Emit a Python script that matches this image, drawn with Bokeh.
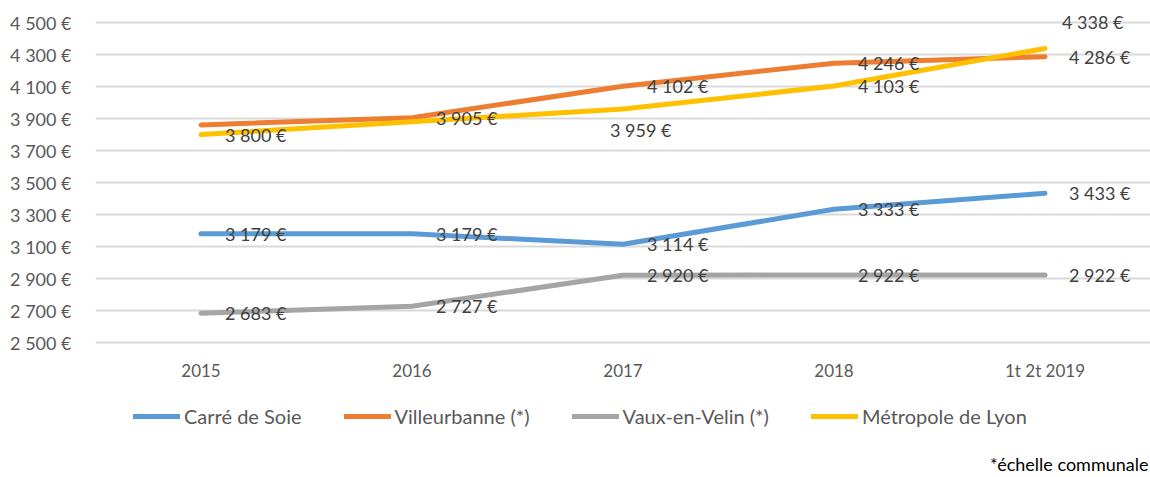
from bokeh.plotting import figure
from bokeh.models import (ColumnDataSource, FactorRange, Range1d, FixedTicker,
                          LabelSet, Label, Legend, LegendItem)
from bokeh.core.properties import value
from bokeh.embed import file_html
from bokeh.resources import INLINE

# ---- data ----
categories = ["2015", "2016", "2017", "2018", "1t 2t 2019"]
series_names = ["Carré de Soie", "Villeurbanne (*)", "Vaux-en-Velin (*)", "Métropole de Lyon"]
carre_de_soie = [3179, 3179, 3114, 3333, 3433]
villeurbanne = [3860, 3905, 4102, 4246, 4286]
vaulx_en_velin = [2683, 2727, 2920, 2922, 2922]
metropole_lyon = [3800, 3880, 3959, 4103, 4338]
y_ticks = [2500, 2700, 2900, 3100, 3300, 3500, 3700, 3900, 4100, 4300, 4500]
y_tick_labels = ["2 500 €", "2 700 €", "2 900 €", "3 100 €", "3 300 €", "3 500 €",
                 "3 700 €", "3 900 €", "4 100 €", "4 300 €", "4 500 €"]
# which points carry a data label (series index, category index, text)
data_labels = [
    (0, 0, "3 179 €"), (0, 1, "3 179 €"), (0, 2, "3 114 €"), (0, 3, "3 333 €"), (0, 4, "3 433 €"),
    (1, 1, "3 905 €"), (1, 2, "4 102 €"), (1, 3, "4 246 €"), (1, 4, "4 286 €"),
    (2, 0, "2 683 €"), (2, 1, "2 727 €"), (2, 2, "2 920 €"), (2, 3, "2 922 €"), (2, 4, "2 922 €"),
    (3, 0, "3 800 €"), (3, 2, "3 959 €"), (3, 3, "4 103 €"), (3, 4, "4 338 €"),
]
footnote = "*échelle communale"

# ---- styles ----
colors = ["#5B9BD5", "#ED7D31", "#A5A5A5", "#FFC000"]
FONT = "Lato"
AXIS_COLOR = "#595959"
LABEL_COLOR = "#404040"
special_offsets = {(3, 2): (-13, -21), (3, 4): (17, 26)}

all_series = [carre_de_soie, villeurbanne, vaulx_en_velin, metropole_lyon]

# frame spans the whole height; the value axis keeps 0.16 px per euro
p = figure(x_range=FactorRange(*categories, range_padding=0),
           y_range=Range1d(1656.25, 4600),
           frame_width=1055, frame_height=471,
           min_border_left=95, min_border_right=0,
           min_border_top=6, min_border_bottom=0,
           output_backend="svg", toolbar_location=None,
           background_fill_color="white", border_fill_color="white")
p.outline_line_color = None

# grid
p.xgrid.grid_line_color = None
p.ygrid.grid_line_color = "#D9D9D9"
p.ygrid.grid_line_width = 2

# y axis
p.yaxis.ticker = FixedTicker(ticks=y_ticks)
p.yaxis.major_label_overrides = {t: l for t, l in zip(y_ticks, y_tick_labels)}
p.yaxis.axis_line_color = None
p.yaxis.major_tick_line_color = None
p.yaxis.minor_tick_line_color = None
p.yaxis.major_label_standoff = 18
p.yaxis.major_label_text_font = FONT
p.yaxis.major_label_text_font_size = "18px"
p.yaxis.major_label_text_color = AXIS_COLOR

# category axis labels, placed under the lowest gridline
p.xaxis.visible = False
csrc = ColumnDataSource(dict(x=categories, y=[y_ticks[0]] * len(categories), text=categories))
p.add_layout(LabelSet(x="x", y="y", text="text", source=csrc, y_offset=-28,
                      text_align="center", text_baseline="middle",
                      text_font=value(FONT), text_font_size="17px",
                      text_color=AXIS_COLOR))

renderers = []
for name, vals, col in zip(series_names, all_series, colors):
    src = ColumnDataSource(dict(x=categories, y=vals))
    r = p.line("x", "y", source=src, line_color=col, line_width=5,
               line_cap="round", line_join="round")
    renderers.append(r)

# data labels
lx, ly, lt, lxo, lyo = [], [], [], [], []
for si, ci, txt in data_labels:
    lx.append(categories[ci])
    ly.append(all_series[si][ci])
    lt.append(txt)
    xo, yo = special_offsets.get((si, ci), (24, 0))
    lxo.append(xo)
    lyo.append(yo)
lsrc = ColumnDataSource(dict(x=lx, y=ly, text=lt, xo=lxo, yo=lyo))
p.add_layout(LabelSet(x="x", y="y", text="text", source=lsrc,
                      x_offset="xo", y_offset="yo",
                      text_align="left", text_baseline="middle",
                      text_font=value(FONT), text_font_size="18px",
                      text_color=LABEL_COLOR))

# legend
legend = Legend(items=[LegendItem(label=n, renderers=[r]) for n, r in zip(series_names, renderers)],
                orientation="horizontal", location=(38, 49),
                glyph_width=47, glyph_height=20, label_standoff=4, spacing=42,
                padding=0, margin=0, border_line_color=None,
                background_fill_alpha=0,
                label_text_font=FONT, label_text_font_size="20px",
                label_text_color=AXIS_COLOR)
p.add_layout(legend, "center")

p.add_layout(Label(x=1053, y=14, x_units="screen", y_units="screen",
                   text=footnote, text_align="right", text_baseline="middle",
                   text_font=FONT, text_font_size="18px", text_color="#000000"))

open("out.html", "w").write(file_html(p, INLINE))
